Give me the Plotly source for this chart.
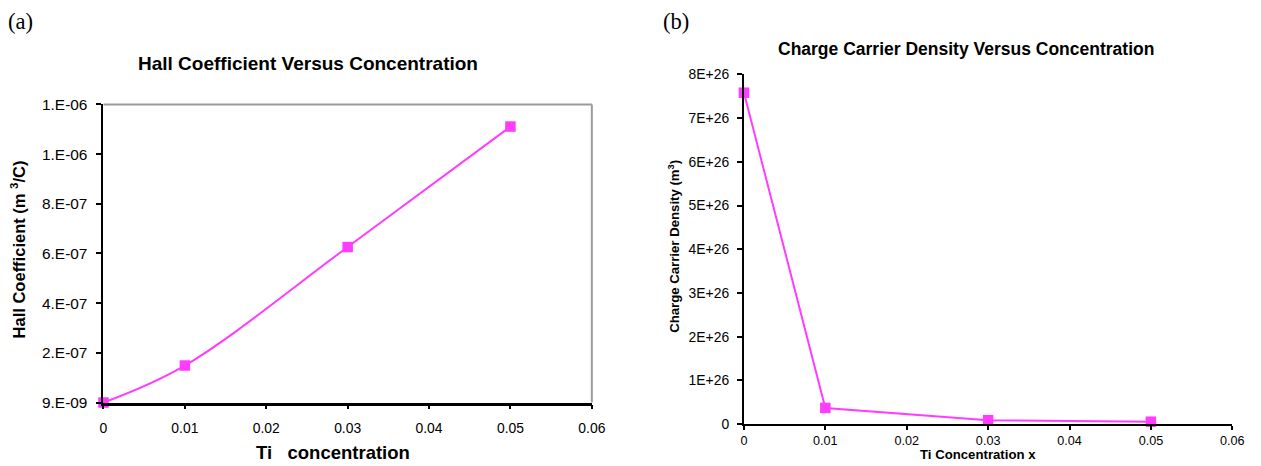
import plotly.graph_objects as go

# ---- data ----
ti_conc_a = [0.0, 0.01, 0.03, 0.05]
hall_coeff = [9e-9, 1.58e-7, 6.35e-7, 1.12e-6]

ti_conc_b = [0.0, 0.01, 0.03, 0.05]
carrier_density = [7.58e26, 0.37e26, 0.09e26, 0.055e26]

x_ticks = [0, 0.01, 0.02, 0.03, 0.04, 0.05, 0.06]
x_tick_labels = ["0", "0.01", "0.02", "0.03", "0.04", "0.05", "0.06"]

hall_ticks = [9e-9, 2.09e-7, 4.09e-7, 6.09e-7, 8.09e-7, 1.009e-6, 1.209e-6]
hall_tick_labels = ["9.E-09", "2.E-07", "4.E-07", "6.E-07", "8.E-07", "1.E-06", "1.E-06"]

dens_ticks = [0, 1e26, 2e26, 3e26, 4e26, 5e26, 6e26, 7e26, 8e26]
dens_tick_labels = ["0", "1E+26", "2E+26", "3E+26", "4E+26", "5E+26", "6E+26", "7E+26", "8E+26"]

W, H = 1261, 466
MAG = "#ff3cff"
SANS = "Liberation Sans, Arial, sans-serif"
SERIF = "Liberation Serif, Times New Roman, serif"

# the photographed page shows up slightly inset/scaled; map picture px -> page fraction
SX, OX = 0.985, 4.6
SY, OY = 0.96, 9.9


def px(x):
    return ((x - OX) / SX) / W


def py(y):
    return 1 - ((y - OY) / SY) / H


def fs(s):
    return round(s / 0.972, 1)


fig = go.Figure()

fig.add_trace(go.Scatter(
    x=ti_conc_a, y=hall_coeff, xaxis="x", yaxis="y",
    mode="lines+markers",
    line=dict(color=MAG, width=2, shape="spline", smoothing=1.0),
    marker=dict(symbol="square", size=10.5, color=MAG),
    cliponaxis=False, showlegend=False,
))

fig.add_trace(go.Scatter(
    x=ti_conc_b, y=carrier_density, xaxis="x2", yaxis="y2",
    mode="lines+markers",
    line=dict(color=MAG, width=2),
    marker=dict(symbol="square", size=10.5, color=MAG),
    cliponaxis=False, showlegend=False,
))


def axis_common(size):
    return dict(showgrid=False, zeroline=False, ticks="outside",
                tickcolor="black", tickwidth=2, showline=True,
                linecolor="black", linewidth=2,
                tickfont=dict(family=SANS, size=fs(size), color="black"))


fig.update_layout(
    width=W, height=H,
    margin=dict(l=0, r=0, t=0, b=0),
    paper_bgcolor="white", plot_bgcolor="white",
    xaxis=dict(domain=[px(104), px(592)], anchor="y", range=[0, 0.06],
               tickvals=x_ticks, ticktext=x_tick_labels, ticklen=4,
               ticklabelstandoff=7, **axis_common(13.5)),
    yaxis=dict(domain=[py(402), py(105)], anchor="x", range=[hall_ticks[0], hall_ticks[-1]],
               tickvals=hall_ticks, ticktext=hall_tick_labels, ticklen=5,
               ticklabelstandoff=6, **axis_common(15)),
    xaxis2=dict(domain=[px(744), px(1232)], anchor="y2", range=[0, 0.06],
                tickvals=x_ticks, ticktext=x_tick_labels, ticklen=4,
                ticklabelstandoff=0, **axis_common(12.2)),
    yaxis2=dict(domain=[py(423.5), py(75)], anchor="x2", range=[0, 8e26],
                tickvals=dens_ticks, ticktext=dens_tick_labels, ticklen=5,
                ticklabelstandoff=5, **axis_common(13.5)),
)
fig.update_layout(xaxis=dict(linewidth=2.5))

# gray top/right frame of panel (a)
fig.add_shape(type="line", xref="x domain", yref="y domain", x0=0, x1=1, y0=1, y1=1,
              line=dict(color="#9a9a9a", width=2))
fig.add_shape(type="line", xref="x domain", yref="y domain", x0=1, x1=1, y0=0, y1=1,
              line=dict(color="#9a9a9a", width=2))

ann = [
    dict(text="(a)", x=px(21), y=py(22), font=dict(family=SERIF, size=fs(22))),
    dict(text="(b)", x=px(676), y=py(22), font=dict(family=SERIF, size=fs(22))),
    dict(text="<b>Hall Coefficient Versus Concentration</b>", x=px(308), y=py(64),
         font=dict(family=SANS, size=fs(18.5))),
    dict(text="<b>Charge Carrier Density Versus Concentration</b>", x=px(966), y=py(50),
         font=dict(family=SANS, size=fs(17))),
    dict(text="<b>Ti   concentration</b>", x=px(333), y=py(451.5),
         font=dict(family=SANS, size=fs(18))),
    dict(text="<b>Ti Concentration x</b>", x=px(978), y=py(453.5),
         font=dict(family=SANS, size=fs(12.8))),
    dict(text="<b>Hall Coefficient (m <sup>3</sup>/C)</b>", x=px(19), y=py(249), textangle=-90,
         font=dict(family=SANS, size=fs(16))),
    dict(text="<b>Charge Carrier Density (m<sup>3</sup>)</b>", x=px(675), y=py(246), textangle=-90,
         font=dict(family=SANS, size=fs(12.8))),
]
for a in ann:
    a.update(xref="paper", yref="paper", showarrow=False, xanchor="center", yanchor="middle")
    a["font"]["color"] = "black"
fig.update_layout(annotations=ann)

fig.write_html("out.html", config={"displayModeBar": False},
               post_script="document.body.style.margin='0';document.body.style.overflow='hidden';")
